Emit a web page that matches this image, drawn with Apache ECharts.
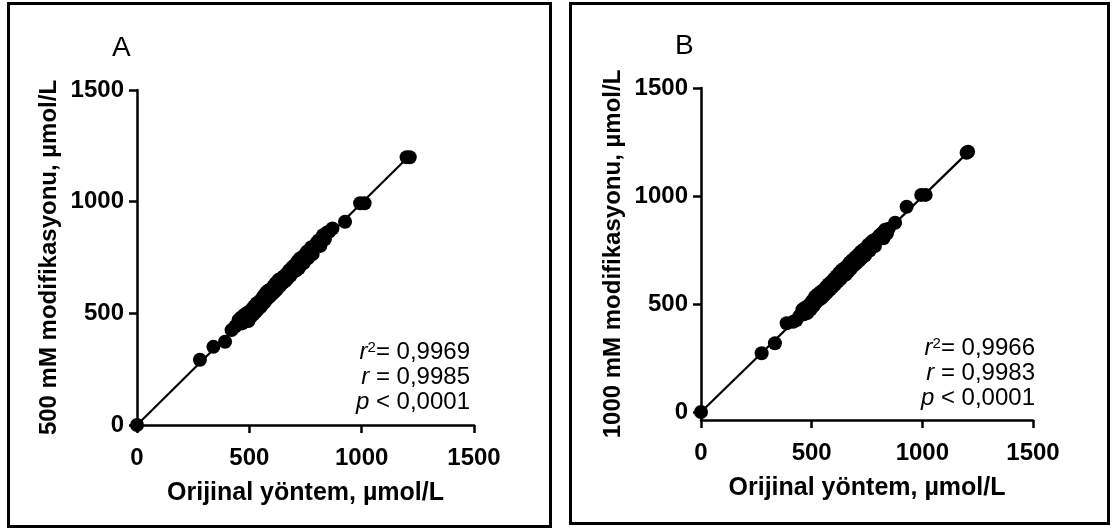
<!DOCTYPE html>
<html>
<head>
<meta charset="utf-8">
<script src="https://cdn.jsdelivr.net/npm/echarts@6/dist/echarts.min.js"></script>
<style>
html,body{margin:0;padding:0;background:#fff;}
#c{width:1117px;height:532px;}
</style>
</head>
<body>
<div id="c"></div>
<script>
// ---- data ----
const xTicks = [0, 500, 1000, 1500];
const yTicks = [0, 500, 1000, 1500];
const xTitle = 'Orijinal yöntem, µmol/L';
const yTitleA = '500 mM modifikasyonu, µmol/L';
const yTitleB = '1000 mM modifikasyonu, µmol/L';
const panelA = 'A';
const panelB = 'B';
const statsA = ['0,9969', '0,9985', '0,0001'];
const statsB = ['0,9966', '0,9983', '0,0001'];

const pointsA = [
  [0,0],[280,292],[340,350],[392,373],[421,425],[438,442],[452,470],[462,480],[468,455],
  [476,492],[484,470],[490,502],[496,466],[502,508],[508,486],[512,520],[518,496],[522,532],
  [528,506],[533,545],[538,518],[544,552],[550,528],[555,566],[560,542],[565,580],[570,552],
  [575,594],[580,566],[585,602],[590,574],[596,608],[602,586],[607,622],[612,596],[618,636],
  [623,608],[630,650],[636,622],[642,656],[648,636],[654,666],[660,644],[665,676],[670,656],
  [677,692],[683,668],[690,706],[696,686],[702,716],[708,692],[714,732],[720,702],[725,746],
  [731,718],[737,752],[743,726],[750,766],[756,776],[762,748],[770,786],[776,796],[782,766],
  [792,802],[800,816],[808,826],[816,802],[828,850],[836,832],[846,862],[856,866],[870,880],
  [926,910],[993,993],[1013,993],[1200,1199],[1214,1199]
];
const pointsB = [
  [0,0],[274,272],[334,318],[387,411],[417,418],[430,425],[445,445],[458,474],[465,452],
  [472,484],[480,458],[488,496],[495,474],[502,514],[508,491],[515,534],[520,508],[526,544],
  [532,518],[538,554],[545,528],[552,564],[558,541],[565,579],[570,554],[576,592],[582,566],
  [588,602],[594,578],[600,616],[606,591],[612,629],[618,604],[624,644],[630,616],[636,656],
  [642,630],[648,666],[654,636],[660,676],[666,651],[672,692],[678,664],[684,704],[690,678],
  [697,716],[703,690],[710,728],[716,702],[722,742],[728,714],[735,752],[742,726],[750,764],
  [756,774],[762,748],[770,786],[778,794],[786,768],[795,804],[805,816],[815,826],[824,804],
  [832,844],[840,826],[848,848],[877,876],[929,950],[995,1005],[1015,1005],[1200,1200],[1207,1205]
];
const fitA = [[0,0],[1207,1200]];
const fitB = [[0,0],[1207,1203]];

// ---- chart ----
const FF = '"Liberation Sans", Arial, sans-serif';
const chart = echarts.init(document.getElementById('c'), null, {renderer:'canvas'});

function xAx(gi){
  return {
    gridIndex: gi, type:'value', min:0, max:1500, interval:500,
    name: xTitle, nameLocation:'middle', nameGap:56,
    nameTextStyle:{fontFamily:FF, fontWeight:'bold', fontSize:25, color:'#000'},
    axisLine:{show:true, onZero:false, lineStyle:{color:'#000', width:2.5}},
    axisTick:{show:true, inside:false, length:8, lineStyle:{color:'#000', width:2.5}},
    axisLabel:{fontFamily:FF, fontWeight:'bold', fontSize:24, color:'#000', margin:21,
               formatter:function(v){return String(v);}},
    splitLine:{show:false}
  };
}
function yAx(gi, name, min){
  const o = {
    gridIndex: gi, type:'value', min:min, max:1500,
    name: name, nameLocation:'middle', nameGap:76,
    nameTextStyle:{fontFamily:FF, fontWeight:'bold', fontSize:24, color:'#000'},
    axisLine:{show:true, onZero:false, lineStyle:{color:'#000', width:2.5}},
    axisTick:{show:true, inside:false, length:8, lineStyle:{color:'#000', width:2.5}},
    axisLabel:{fontFamily:FF, fontWeight:'bold', fontSize:24, color:'#000', margin:13,
               formatter:function(v){return String(v);}},
    splitLine:{show:false}
  };
  if (min === 0) { o.interval = 500; }
  else { o.axisTick.customValues = yTicks; o.axisLabel.customValues = yTicks; }
  return o;
}

const rich = {
  it:{fontFamily:FF, fontSize:24, fontStyle:'italic', color:'#000'},
  n:{fontFamily:FF, fontSize:24, color:'#000'},
  sup:{fontFamily:FF, fontSize:15, color:'#000', verticalAlign:'top', lineHeight:20}
};
function statText(x, y, s){
  return {
    type:'text', x:x, y:y,
    style:{
      text:'{it|r}{sup|2}{n|= '+s[0]+'}\n{it|r}{n| = '+s[1]+'}\n{it|p}{n| < '+s[2]+'}',
      rich:rich, align:'right', verticalAlign:'top', lineHeight:25,
      font:'24px '+FF, fill:'#000'
    }
  };
}

chart.setOption({
  animation:false,
  backgroundColor:'#fff',
  grid:[
    {left:137, top:90, width:337, height:335},
    {left:701, top:88, width:332, height:332}
  ],
  xAxis:[xAx(0), xAx(1)],
  yAxis:[yAx(0, yTitleA, 0), yAx(1, yTitleB, -37)],
  graphic:[
    {type:'rect', shape:{x:8.5, y:3.5, width:542, height:523}, style:{fill:'none', stroke:'#000', lineWidth:3}},
    {type:'rect', shape:{x:570.5, y:3.5, width:538, height:520}, style:{fill:'none', stroke:'#000', lineWidth:3}},
    {type:'text', x:112, y:34, style:{text:panelA, font:'28px '+FF, fill:'#000'}},
    {type:'text', x:675, y:32, style:{text:panelB, font:'28px '+FF, fill:'#000'}},
    statText(470, 340, statsA),
    statText(1035, 336, statsB)
  ],
  series:[
    {type:'line', xAxisIndex:0, yAxisIndex:0, data:fitA, symbol:'none', lineStyle:{color:'#000', width:2.2}, z:2},
    {type:'scatter', xAxisIndex:0, yAxisIndex:0, data:pointsA, symbol:'circle', symbolSize:14, itemStyle:{color:'#000', opacity:1}, clip:false, z:3},
    {type:'line', xAxisIndex:1, yAxisIndex:1, data:fitB, symbol:'none', lineStyle:{color:'#000', width:2.2}, z:2},
    {type:'scatter', xAxisIndex:1, yAxisIndex:1, data:pointsB, symbol:'circle', symbolSize:14, itemStyle:{color:'#000', opacity:1}, clip:false, z:3}
  ]
});
</script>
</body>
</html>
